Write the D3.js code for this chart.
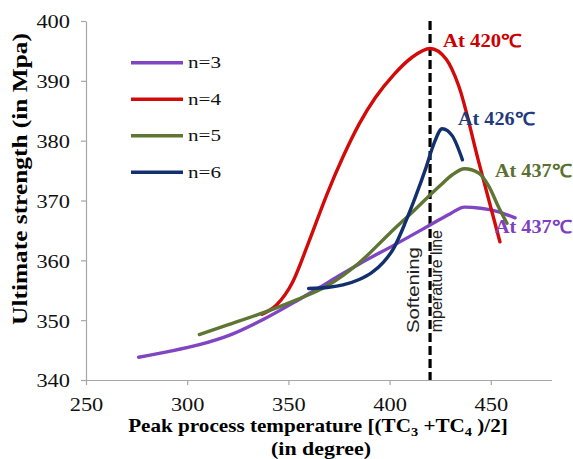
<!DOCTYPE html>
<html>
<head>
<meta charset="utf-8">
<script src="https://cdn.jsdelivr.net/npm/d3@7"></script>
<style>
  html, body { margin: 0; padding: 0; background: #fff; }
  svg { display: block; }
</style>
</head>
<body>
<svg id="chart" width="573" height="459"></svg>
<script>
// Peak process temperature (x) vs ultimate strength (y) for n = 3..6
const seriesNames = ["n=3", "n=4", "n=5", "n=6"];
const n3X = [276, 290, 306, 321, 338, 354, 370, 385, 402, 420, 430, 437, 445, 453, 462];
const n3Y = [343.8, 344.7, 345.9, 347.5, 350.2, 353.2, 356.4, 359.4, 362.5, 365.9, 367.8, 368.9, 368.7, 368.2, 367.1];
const n4X = [337, 344, 352, 360, 369, 377, 385, 393, 402, 411, 420, 428, 434, 444, 454.5];
const n4Y = [351, 352.5, 356.3, 363, 371, 377.3, 382.8, 387.2, 391, 393.9, 395.4, 393.6, 389.3, 376.5, 363.1];
const n5X = [306, 320, 338, 354, 369, 385, 400, 412, 425, 431, 437, 444, 449, 454, 458];
const n5Y = [347.6, 349.2, 351.3, 353.4, 355.7, 359.6, 364.5, 368.3, 372.5, 374.3, 375.3, 374.6, 372.4, 368.8, 366.2];
const n6X = [360, 370, 377, 385, 391, 397, 402, 408, 413, 418, 422, 426, 431, 436];
const n6Y = [355.3, 355.5, 355.9, 356.8, 357.9, 359.7, 362, 366.5, 370.8, 375.5, 379.6, 382, 380.8, 376.8];

// Peak temperatures annotated next to each curve
const peakLabels = ["At 437℃", "At 420℃", "At 437℃", "At 426℃"];
const softeningTemp = 420;

const xTicks = [250, 300, 350, 400, 450];
const yTicks = [340, 350, 360, 370, 380, 390, 400];

const colors = ["#7f45c2", "#d20a0a", "#5e7533", "#12306e"];
const labelColors = ["#7f40bf", "#cc0000", "#5b6f30", "#1f3a7d"];

const svg = d3.select("#chart");
const serif = "'Liberation Serif', 'Times New Roman', serif";
const sans = "'Liberation Sans', Arial, sans-serif";

const x = d3.scaleLinear().domain([250, 480]).range([86, 551.5]);
const y = d3.scaleLinear().domain([340, 400]).range([380, 21]);

// Axes
const gx = svg.append("g").attr("transform", "translate(0,380)")
  .call(d3.axisBottom(x).tickValues(xTicks).tickSize(5).tickSizeOuter(0));
const gy = svg.append("g").attr("transform", "translate(86,0)")
  .call(d3.axisLeft(y).tickValues(yTicks).tickSize(5).tickSizeOuter(0));

[gx, gy].forEach(g => {
  g.attr("font-family", serif);
  g.select(".domain").attr("stroke", "#a6a6a6").attr("stroke-width", 1.2);
  g.selectAll(".tick line").attr("stroke", "#a6a6a6").attr("stroke-width", 1.2);
  g.selectAll(".tick text").attr("font-family", serif).attr("font-size", 19).attr("fill", "#111");
});
const tickStretch = 1.18;
gx.selectAll(".tick text").attr("y", 31.5).attr("dy", null)
  .attr("transform", `scale(${tickStretch},1)`);
gy.selectAll(".tick text").attr("x", -16 / tickStretch).attr("dy", "0.36em")
  .attr("transform", `scale(${tickStretch},1)`);

// Helper: places text and stretches it horizontally to a given length
function fitText(parent, str, opts) {
  const t = parent.append("text")
    .attr("font-family", opts.family || serif)
    .attr("font-size", opts.size)
    .attr("font-weight", opts.weight || "normal")
    .attr("fill", opts.fill || "#000")
    .attr("text-anchor", opts.anchor || "start");
  if (Array.isArray(str)) {
    str.forEach(part => {
      const s = t.append("tspan").text(part.t);
      if (part.sub) s.attr("font-size", opts.size * 0.68).attr("dy", opts.size * 0.22);
      if (part.unsub) s.attr("dy", -opts.size * 0.22);
    });
  } else {
    t.text(str);
  }
  const w = t.node().getBBox().width;
  const sx = opts.len ? opts.len / w : 1;
  const rot = opts.rotate ? ` rotate(${opts.rotate})` : "";
  t.attr("transform", `translate(${opts.x},${opts.y})${rot} scale(${sx},1)`);
  return t;
}

// Axis titles
fitText(svg, "Ultimate strength (in Mpa)", {
  x: 27, y: 179, size: 20, weight: "bold", anchor: "middle", rotate: -90, len: 292
});
fitText(svg, [
  { t: "Peak process temperature [(TC" },
  { t: "3", sub: true },
  { t: " +TC", unsub: true },
  { t: "4", sub: true },
  { t: " )/2]", unsub: true }
], { x: 318, y: 431.5, size: 19, weight: "bold", anchor: "middle", len: 380 });
fitText(svg, "(in degree)", { x: 321, y: 455, size: 19, weight: "bold", anchor: "middle", len: 100 });

// Softening temperature line
svg.append("line")
  .attr("x1", x(softeningTemp)).attr("x2", x(softeningTemp))
  .attr("y1", y(400)).attr("y2", y(340))
  .attr("stroke", "#000").attr("stroke-width", 3.2)
  .attr("stroke-dasharray", "9,4");

svg.append("clipPath").attr("id", "noteClip")
  .append("rect").attr("x", 430).attr("y", 200).attr("width", 30).attr("height", 133);

fitText(svg, "Softening", {
  x: 419, y: 333, size: 17, family: sans, fill: "#222", rotate: -90, len: 86
});
fitText(svg.append("g").attr("clip-path", "url(#noteClip)"), "temperature line", {
  x: 442, y: 230, size: 16, family: sans, fill: "#222", anchor: "end", rotate: -90
});

// Curves
const seriesX = [n3X, n4X, n5X, n6X];
const seriesY = [n3Y, n4Y, n5Y, n6Y];
const line = d3.line()
  .x(d => x(d[0])).y(d => y(d[1]))
  .curve(d3.curveMonotoneX);

seriesX.forEach((xs, i) => {
  const pts = xs.map((v, j) => [v, seriesY[i][j]]);
  svg.append("path")
    .datum(pts)
    .attr("d", line)
    .attr("fill", "none")
    .attr("stroke", colors[i])
    .attr("stroke-width", 3.4)
    .attr("stroke-linecap", "round")
    .attr("stroke-linejoin", "round");
});

// Peak annotations
const labelPos = [
  { x: 495, y: 233 },
  { x: 443, y: 47 },
  { x: 495, y: 177 },
  { x: 458, y: 125 }
];
peakLabels.forEach((txt, i) => {
  fitText(svg, txt, {
    x: labelPos[i].x, y: labelPos[i].y, size: 18, weight: "bold",
    fill: labelColors[i], len: i === 1 ? 79 : 77
  });
});

// Legend
const legend = svg.append("g");
seriesNames.forEach((name, i) => {
  const ly = 62.7 + i * 36.5;
  legend.append("line")
    .attr("x1", 131).attr("x2", 183).attr("y1", ly).attr("y2", ly)
    .attr("stroke", colors[i]).attr("stroke-width", 3.4);
  fitText(legend, name, { x: 188, y: ly + 5.5, size: 16, fill: "#111", len: 33 });
});
</script>
</body>
</html>
